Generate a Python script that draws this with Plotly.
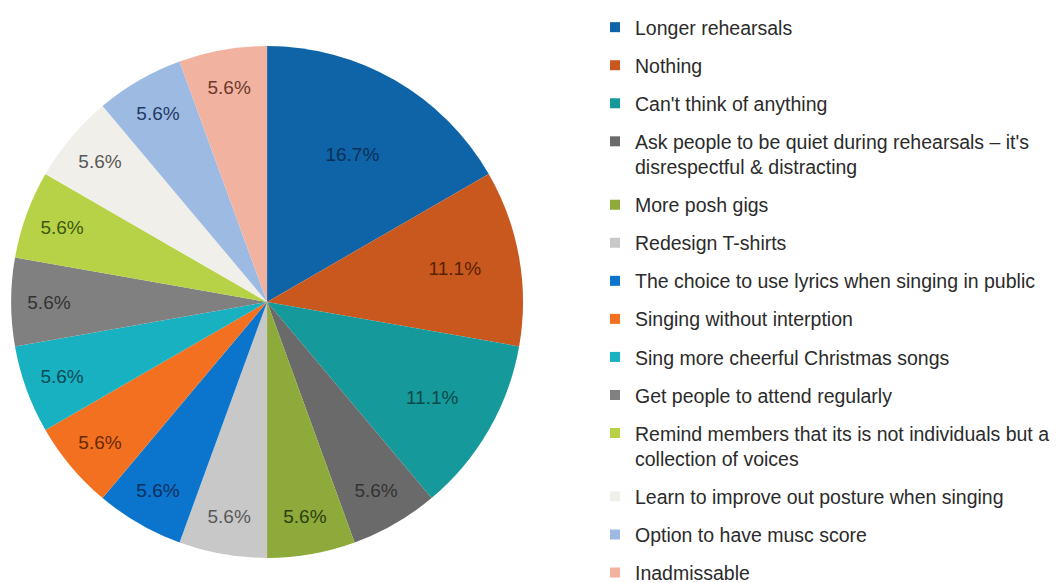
import plotly.graph_objects as go

# answers (18 respondents), order as in the legend / clockwise from 12 o'clock
labels = [
    "Longer rehearsals",
    "Nothing",
    "Can't think of anything",
    "Ask people to be quiet during rehearsals \u2013 it's<br>disrespectful & distracting",
    "More posh gigs",
    "Redesign T-shirts",
    "The choice to use lyrics when singing in public",
    "Singing without interption",
    "Sing more cheerful Christmas songs",
    "Get people to attend regularly",
    "Remind members that its is not individuals but a<br>collection of voices",
    "Learn to improve out posture when singing",
    "Option to have musc score",
    "Inadmissable",
]
counts = [3, 2, 2, 1, 1, 1, 1, 1, 1, 1, 1, 1, 1, 1]

slice_colors = [
    "#0e64a6", "#c9581e", "#15999a", "#6a6a6a", "#8daa3a", "#c8c8c8", "#0b74cc",
    "#f2701f", "#17b1c1", "#808080", "#b8d247", "#f1efea", "#9dbbe2", "#f2b2a0",
]
label_colors = [
    "#0b2f5a", "#5a2100", "#0a4a4a", "#333333", "#2f4010", "#595959", "#0a3060",
    "#6a2a00", "#0a4a55", "#333333", "#3d5a10", "#595959", "#1f3a66", "#6b3a2a",
]

FONT = "Arial, Liberation Sans, sans-serif"

fig = go.Figure()

fig.add_trace(go.Pie(
    labels=labels,
    values=counts,
    sort=False,
    direction="clockwise",
    rotation=0,
    marker=dict(colors=slice_colors, line=dict(width=0)),
    texttemplate="%{percent:.1%}",
    textposition="inside",
    insidetextorientation="horizontal",
    textfont=dict(family=FONT, size=19, color=label_colors),
    showlegend=False,
    # page body adds 8px on top/left, compensated here
    domain=dict(x=[0.0029, 0.485], y=[0.0567, 0.9347]),
))

# legend entries: one group per answer so the gap between entries can be set
for i, (name, col) in enumerate(zip(labels, slice_colors)):
    fig.add_trace(go.Scatter(
        x=[None], y=[None],
        mode="markers",
        marker=dict(symbol="square", size=10, color=col),
        name=name,
        legendgroup=f"g{i}",
        showlegend=True,
    ))

fig.update_layout(
    width=1062,
    height=583,
    margin=dict(l=0, r=0, t=0, b=0),
    paper_bgcolor="white",
    plot_bgcolor="white",
    xaxis=dict(visible=False),
    yaxis=dict(visible=False),
    legend=dict(
        x=587 / 1062, xanchor="left",
        y=1.0, yanchor="top",
        font=dict(family=FONT, size=19.5, color="#2b2b2b"),
        valign="top",
        tracegroupgap=9.7,
        bgcolor="rgba(0,0,0,0)",
        maxheight=600,
    ),
)

fig.write_html("out.html")
